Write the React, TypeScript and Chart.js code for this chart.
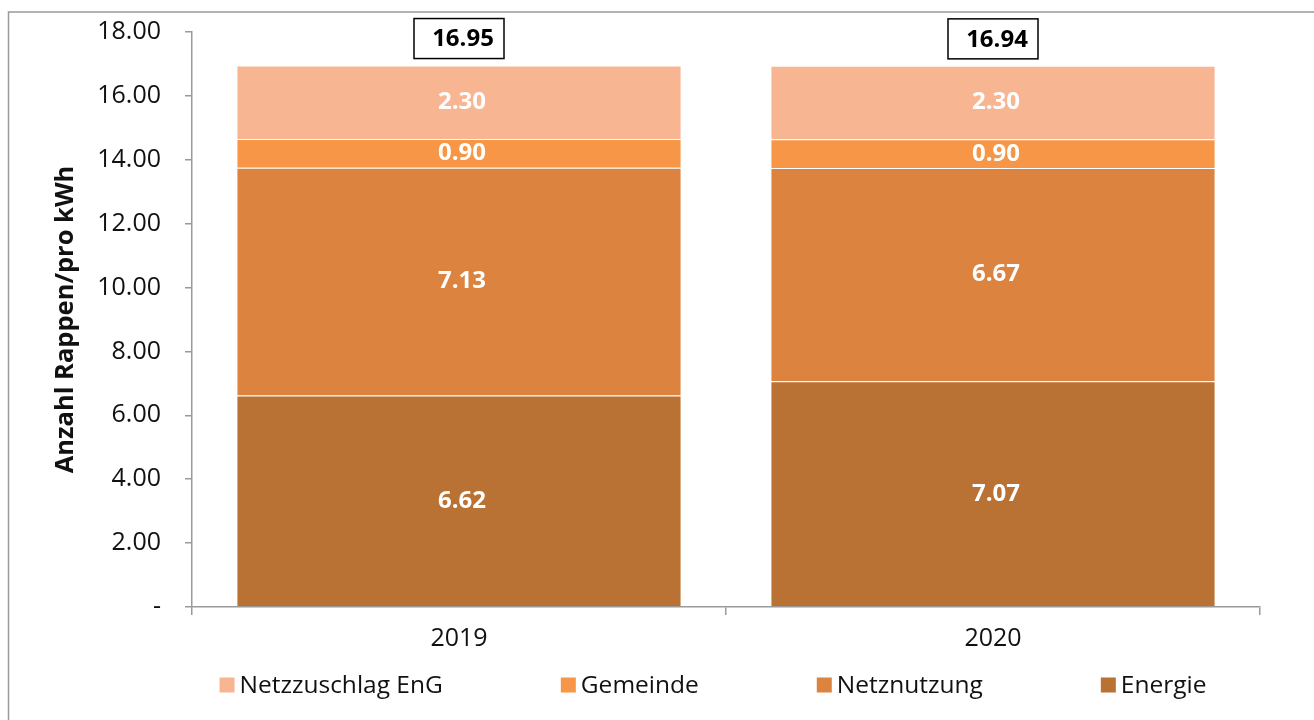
import React, { useEffect, useRef } from 'react';
import { Chart, registerables } from 'chart.js';

Chart.register(...registerables);

const categories = ['2019', '2020'];
const energie = [6.62, 7.07];
const netznutzung = [7.13, 6.67];
const gemeinde = [0.9, 0.9];
const netzzuschlag = [2.3, 2.3];

const seriesNames = ['Energie', 'Netznutzung', 'Gemeinde', 'Netzzuschlag EnG'];
const seriesColors = ['#B97134', '#DB833F', '#F79646', '#F8B592'];
const seriesValues = [energie, netznutzung, gemeinde, netzzuschlag];

const yMin = 0;
const yMax = 18;
const yStep = 2;
const yAxisTitle = 'Anzahl Rappen/pro kWh';

const FONT = '"Open Sans", "Noto Sans", sans-serif';
const AXIS_GRAY = '#9a9a9a';

const customPlugin = {
  id: 'customDecor',
  beforeDraw(chart: any) {
    const ctx = chart.ctx;
    ctx.save();
    ctx.fillStyle = '#ffffff';
    ctx.fillRect(0, 0, chart.width, chart.height);
    ctx.strokeStyle = AXIS_GRAY;
    ctx.lineWidth = 1.5;
    ctx.beginPath();
    ctx.moveTo(8.5, chart.height);
    ctx.lineTo(8.5, 12);
    ctx.lineTo(chart.width, 12);
    ctx.stroke();
    ctx.restore();
  },
  afterDatasetsDraw(chart: any) {
    const ctx = chart.ctx;
    ctx.save();
    // segment labels
    ctx.font = `bold 24px ${FONT}`;
    ctx.fillStyle = '#ffffff';
    ctx.textAlign = 'center';
    ctx.textBaseline = 'middle';
    chart.data.datasets.forEach((ds: any, di: number) => {
      const meta = chart.getDatasetMeta(di);
      meta.data.forEach((bar: any, i: number) => {
        const p = bar.getProps(['x', 'y', 'base'], true);
        ctx.fillText(Number(ds.data[i]).toFixed(2), p.x + 3, (p.y + p.base) / 2);
      });
    });
    // totals
    const xs = chart.scales.x;
    const ys = chart.scales.y;
    categories.forEach((_c, i) => {
      let total = 0;
      chart.data.datasets.forEach((ds: any) => {
        total += Number(ds.data[i]);
      });
      const cx = xs.getPixelForValue(i);
      const topPx = ys.getPixelForValue(total);
      const boxW = 90;
      const boxH = 40;
      const cy = topPx - 27;
      ctx.fillStyle = '#ffffff';
      ctx.fillRect(cx - boxW / 2, cy - boxH / 2, boxW, boxH);
      ctx.strokeStyle = '#000000';
      ctx.lineWidth = 1.5;
      ctx.strokeRect(cx - boxW / 2, cy - boxH / 2, boxW, boxH);
      ctx.fillStyle = '#000000';
      ctx.font = `bold 24px ${FONT}`;
      ctx.fillText(total.toFixed(2), cx + 4, cy + 1);
    });
    ctx.restore();
  },
  afterDraw(chart: any) {
    const ctx = chart.ctx;
    ctx.save();
    ctx.font = `24.5px ${FONT}`;
    ctx.textBaseline = 'middle';
    ctx.textAlign = 'left';
    const box = 15;
    const boxGap = 5;
    const itemGap = 118;
    const items = chart.data.datasets
      .map((ds: any) => ({ label: ds.label, color: ds.backgroundColor }))
      .reverse();
    const widths = items.map((it: any) => box + boxGap + ctx.measureText(it.label).width);
    const total = widths.reduce((a: number, b: number) => a + b, 0) + itemGap * (items.length - 1);
    const centerX = (chart.chartArea.left + chart.chartArea.right) / 2 - 13;
    let x = centerX - total / 2;
    const cy = 685;
    items.forEach((it: any, k: number) => {
      ctx.fillStyle = it.color;
      ctx.fillRect(x, cy - box / 2, box, box);
      ctx.fillStyle = '#111111';
      ctx.fillText(it.label, x + box + boxGap, cy + 1);
      x += widths[k] + itemGap;
    });
    ctx.restore();
  },
};

export default function App() {
  const canvasRef = useRef<HTMLCanvasElement | null>(null);

  useEffect(() => {
    if (!canvasRef.current) return;
    const chart = new Chart(canvasRef.current, {
      type: 'bar',
      data: {
        labels: categories,
        datasets: seriesNames.map((name, i) => ({
          label: name,
          data: seriesValues[i],
          backgroundColor: seriesColors[i],
          borderColor: 'rgba(255,255,255,0.25)',
          borderWidth: 1,
          categoryPercentage: 1,
          barPercentage: 0.8336,
        })),
      },
      options: {
        responsive: false,
        animation: false,
        events: [],
        layout: { padding: { top: 32, right: 54, bottom: 73, left: 0 } },
        plugins: {
          legend: { display: false },
          tooltip: { enabled: false },
        },
        scales: {
          x: {
            stacked: true,
            grid: {
              drawOnChartArea: false,
              drawTicks: true,
              tickLength: 8,
              color: AXIS_GRAY,
              lineWidth: 1.5,
              offset: true,
            },
            border: { color: AXIS_GRAY, width: 1.5 },
            ticks: { font: { family: FONT, size: 25 }, color: '#111111', padding: 9 },
            afterFit: (s: any) => {
              s.height = 40;
              s.paddingLeft = 0;
              s.paddingRight = 0;
            },
          },
          y: {
            stacked: true,
            min: yMin,
            max: yMax,
            ticks: {
              stepSize: yStep,
              font: { family: FONT, size: 25 },
              color: '#111111',
              padding: 24,
              callback: (v: any) => (Number(v) === 0 ? '-' : Number(v).toFixed(2)),
            },
            grid: {
              drawOnChartArea: false,
              drawTicks: true,
              tickLength: 7,
              color: AXIS_GRAY,
              lineWidth: 1.5,
            },
            border: { color: AXIS_GRAY, width: 1.5 },
            title: {
              display: true,
              text: yAxisTitle,
              color: '#111111',
              font: { family: FONT, size: 25.5, weight: 'bold' },
              padding: { top: 50, bottom: 0 },
            },
            afterFit: (s: any) => {
              s.width = 192;
              s.paddingTop = 0;
              s.paddingBottom = 0;
            },
          },
        },
      },
      plugins: [customPlugin],
    });
    return () => chart.destroy();
  }, []);

  return (
    <div style={{ position: 'fixed', left: 0, top: 0, width: 1314, height: 720 }}>
      <canvas ref={canvasRef} width={1314} height={720} style={{ display: 'block' }} />
    </div>
  );
}
